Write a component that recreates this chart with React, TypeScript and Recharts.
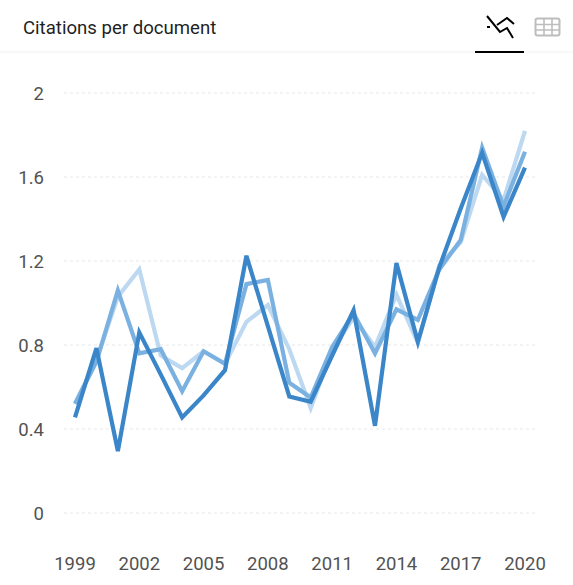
import { CartesianGrid, Line, LineChart, XAxis, YAxis } from 'recharts'

const years = [
  1999, 2000, 2001, 2002, 2003, 2004, 2005, 2006, 2007, 2008, 2009,
  2010, 2011, 2012, 2013, 2014, 2015, 2016, 2017, 2018, 2019, 2020,
]
const lightValues = [
  0.52, 0.73, 1.03, 1.16, 0.75, 0.69, 0.77, 0.71, 0.91, 0.99, 0.78,
  0.5, 0.78, 0.93, 0.79, 1.04, 0.81, 1.18, 1.29, 1.61, 1.49, 1.82,
]
const midValues = [
  0.52, 0.72, 1.06, 0.76, 0.78, 0.58, 0.77, 0.71, 1.09, 1.11, 0.62,
  0.55, 0.79, 0.95, 0.76, 0.97, 0.92, 1.16, 1.3, 1.74, 1.46, 1.72,
]
const darkValues = [
  0.455, 0.785, 0.295, 0.86, 0.66, 0.455, 0.56, 0.68, 1.225, 0.89, 0.555,
  0.53, 0.75, 0.965, 0.415, 1.19, 0.815, 1.17, 1.45, 1.715, 1.41, 1.645,
]
const xTicks = [1999, 2002, 2005, 2008, 2011, 2014, 2017, 2020]
const yTicks = [0, 0.4, 0.8, 1.2, 1.6, 2]

const rows = years.map((year, i) => ({
  year,
  light: lightValues[i],
  mid: midValues[i],
  dark: darkValues[i],
}))

const tickStyle = { fill: '#525252', fontSize: 18.5, fontFamily: 'Roboto' }

function TrendIcon() {
  return (
    <svg width="32" height="26" viewBox="0 0 32 26" style={{ position: 'absolute', left: 484, top: 14 }}>
      <path d="M3 2 L16 18 L23 14 L29 24" fill="none" stroke="#000" strokeWidth="2" />
      <path d="M13 11 L23 4 L30 10" fill="none" stroke="#000" strokeWidth="2" />
      <path d="M3 13 L6 13" fill="none" stroke="#000" strokeWidth="2" />
    </svg>
  )
}

function TableIcon() {
  return (
    <svg width="28" height="22" viewBox="0 0 28 22" style={{ position: 'absolute', left: 534, top: 17 }}>
      <rect x="1.5" y="1.5" width="24" height="17" rx="2" fill="none" stroke="#bdbdbd" strokeWidth="2" />
      <path d="M10 2 V18 M18 2 V18 M2 7.5 H25 M2 13 H25" fill="none" stroke="#bdbdbd" strokeWidth="1.6" />
    </svg>
  )
}

export default function App() {
  return (
    <div style={{ position: 'fixed', left: 0, top: 0, width: 573, height: 585, background: '#fff', overflow: 'hidden' }}>
      <div style={{ position: 'absolute', left: 23, top: 17, fontFamily: 'Roboto', fontSize: 18.6, lineHeight: '22px', color: '#1f1f1f' }}>
        Citations per document
      </div>
      <TrendIcon />
      <TableIcon />
      <div style={{ position: 'absolute', left: 0, top: 51, width: 573, height: 2, background: '#f8f8f8' }} />
      <div style={{ position: 'absolute', left: 475, top: 51, width: 49, height: 2, background: '#000' }} />
      <div style={{ position: 'absolute', left: 0, top: 0 }}>
        <LineChart width={573} height={585} data={rows} margin={{ top: 93, right: 36, bottom: 0, left: 0 }}>
          <CartesianGrid vertical={false} stroke="#e8e8e8" strokeDasharray="3 3" />
          <XAxis
            dataKey="year"
            ticks={xTicks}
            interval={0}
            height={72}
            padding={{ left: 11, right: 12 }}
            axisLine={false}
            tickLine={false}
            tick={tickStyle}
            tickMargin={38}
          />
          <YAxis
            domain={[0, 2]}
            ticks={yTicks}
            width={64}
            axisLine={false}
            tickLine={false}
            tick={tickStyle}
            tickMargin={14}
          />
          <Line dataKey="light" type="linear" stroke="#bdd9f1" strokeWidth={4.2} dot={false} isAnimationActive={false} />
          <Line dataKey="mid" type="linear" stroke="#7ab1e0" strokeWidth={4.2} dot={false} isAnimationActive={false} />
          <Line dataKey="dark" type="linear" stroke="#3a86c8" strokeWidth={4.2} dot={false} isAnimationActive={false} />
        </LineChart>
      </div>
    </div>
  )
}
